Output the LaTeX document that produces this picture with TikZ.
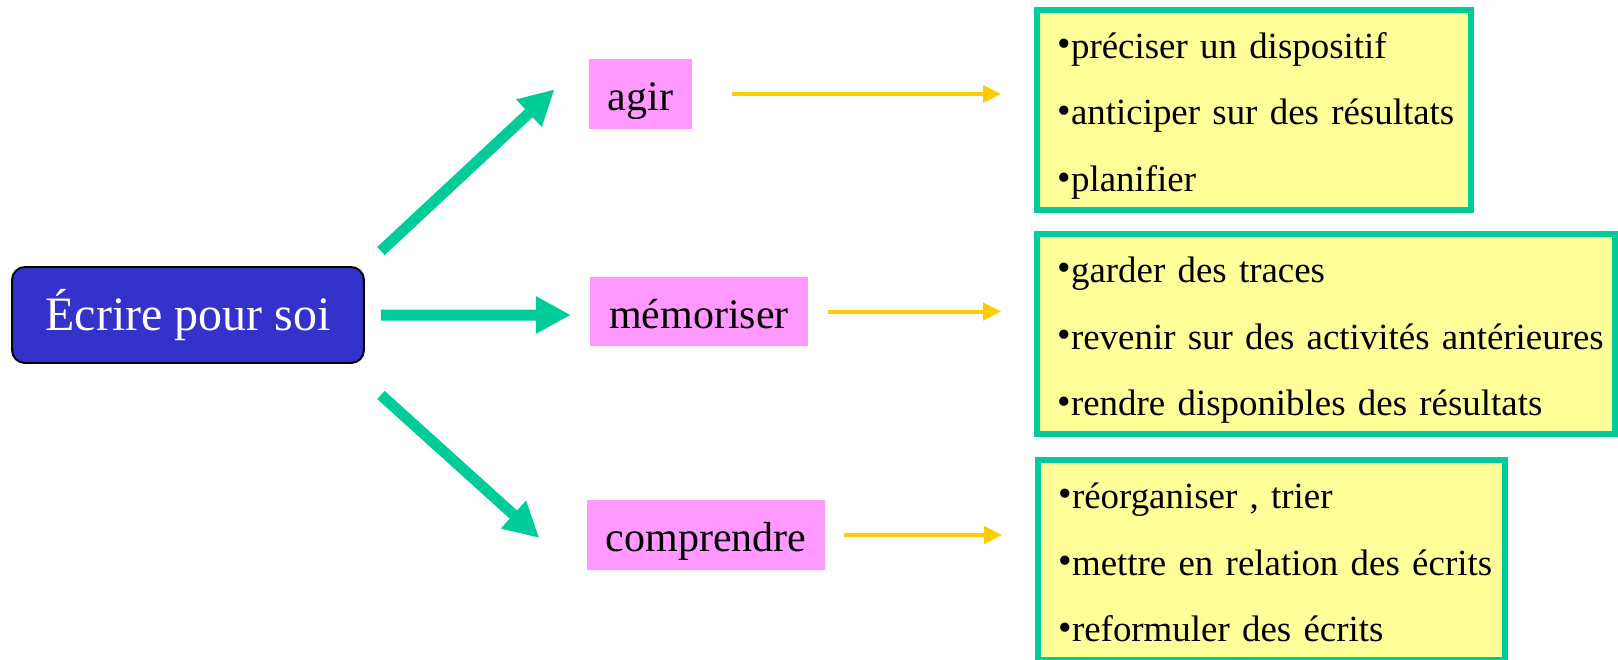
\documentclass[tikz,border=0pt]{standalone}
\usepackage{fontspec}
\setmainfont{Liberation Serif}
\usetikzlibrary{arrows.meta}
\definecolor{bleu}{RGB}{51,51,204}
\definecolor{rose}{RGB}{255,153,255}
\definecolor{jaune}{RGB}{255,255,153}
\definecolor{vert}{RGB}{0,204,153}
\definecolor{orjaune}{RGB}{255,204,0}
\newcommand{\puce}{\makebox[0.24cm][l]{\hspace*{-0.04cm}\raisebox{0.03cm}{\fontsize{22}{22}\selectfont •}}}
\newcommand{\ligne}[1]{\mbox{\rule[-0.16cm]{0pt}{0.92cm}\puce #1}}

\begin{document}
\begin{tikzpicture}[x=0.02cm, y=-0.02cm, every node/.style={font=\fontsize{23.9}{28}\selectfont}]
\tikzset{racine/.style={draw=black, line width=0.04cm, rounded corners=0.26cm, fill=bleu, text=white, minimum width=7.04cm, minimum height=1.92cm, font=\fontsize{27.3}{32}\selectfont}}
\tikzset{verbe/.style={fill=rose, inner xsep=0.38cm, inner ysep=0pt, minimum height=1.4cm, text height=0.8cm, text depth=0.14cm}}
\tikzset{liste/.style={draw=vert, line width=0.12cm, fill=jaune, align=left, inner xsep=0.44cm, inner ysep=0pt, minimum height=4cm, font=\fontsize{21}{38.1}\selectfont}}
\tikzset{fleche/.style={-{Triangle[length=0.7cm, width=0.7cm]}, line width=0.22cm, draw=vert}}
\tikzset{suite/.style={-{Triangle[length=0.36cm, width=0.34cm]}, line width=0.08cm, draw=orjaune, shorten >=0.66cm}}
\useasboundingbox (0,0) rectangle (1618,659);
\node[racine] (soi) at (188,315) {Écrire pour soi};
\node[verbe] (agir) at (640.5,94) {agir};
\node[verbe] (memo) at (699,311.5) {mémoriser};
\node[verbe] (compr) at (706,535) {comprendre};
\node[liste, text width=7.8cm] (listA) at (1254,110) {\ligne{préciser un dispositif}\\ \ligne{anticiper sur des résultats}\\ \ligne{planifier}};
\node[liste, text width=10.68cm] (listM) at (1326,334) {\ligne{garder des traces}\\ \ligne{revenir sur des activités antérieures}\\ \ligne{rendre disponibles des résultats}};
\node[liste, text width=8.46cm] (listC) at (1271.5,560) {\ligne{réorganiser , trier}\\ \ligne{mettre en relation des écrits}\\ \ligne{reformuler des écrits}};
\draw[fleche] ([shift={(16,-15)}]soi.north east) -- ([shift={(-34,-40)}]agir.south west);
\draw[fleche] ([shift={(16,0)}]soi.east) -- ([shift={(-19,3.5)}]memo.west);
\draw[fleche] ([shift={(16,31)}]soi.south east) -- ([shift={(-47,3)}]compr.west);
\draw[suite, shorten <=0.8cm] (agir.east) -- (agir.east -| listA.west);
\draw[suite, shorten <=0.4cm] (memo.east) -- (memo.east -| listM.west);
\draw[suite, shorten <=0.36cm] (compr.east) -- (compr.east -| listC.west);
\end{tikzpicture}
\end{document}
